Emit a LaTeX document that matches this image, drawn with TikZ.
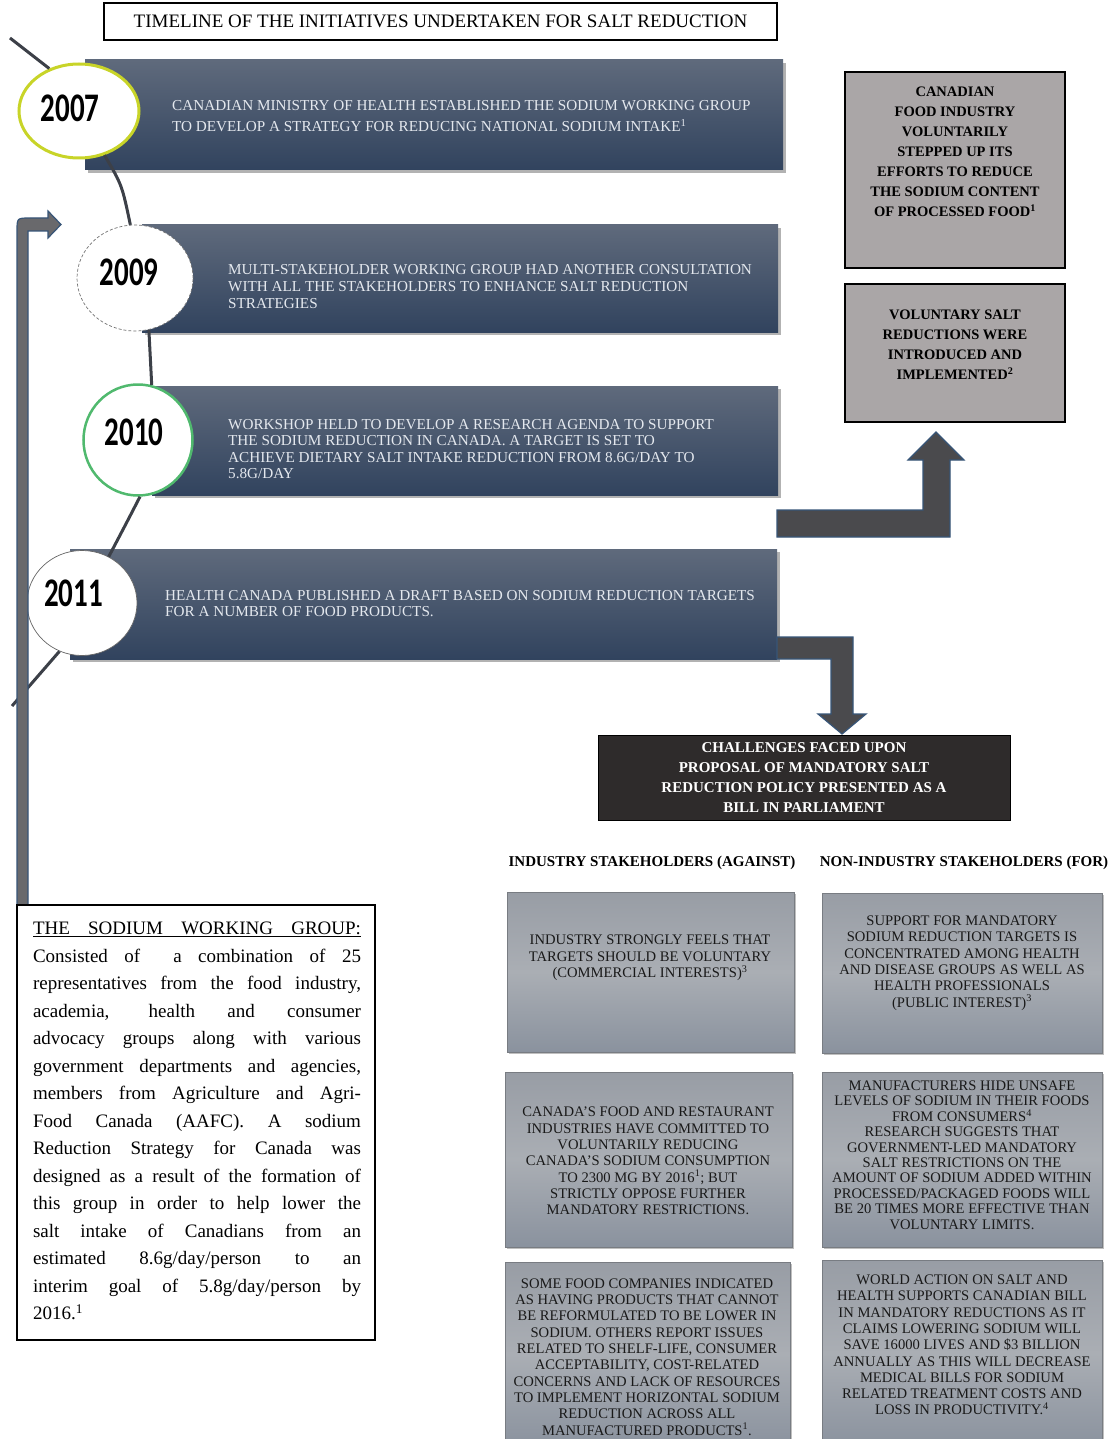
\documentclass[tikz,border=0pt]{standalone}
\usepackage{fontspec}
\setmainfont{Liberation Serif}
\newfontfamily\yearfont{Carlito}
\usetikzlibrary{shapes.geometric,shadows}
\definecolor{bantop}{RGB}{95,106,124}
\definecolor{banbot}{RGB}{49,67,94}
\definecolor{bantxt}{RGB}{228,232,238}
\definecolor{tlcol}{RGB}{60,64,72}
\definecolor{ygreen}{RGB}{200,212,40}
\definecolor{cgreen}{RGB}{80,185,110}
\definecolor{rgray}{RGB}{170,166,167}
\definecolor{agray}{RGB}{74,74,77}
\definecolor{ablue}{RGB}{55,85,120}
\definecolor{lagray}{RGB}{105,105,108}
\definecolor{chall}{RGB}{46,43,43}
\definecolor{sbtop}{RGB}{152,157,165}
\definecolor{sbmid}{RGB}{170,174,180}
\definecolor{sbbot}{RGB}{138,146,158}
\definecolor{sbedge}{RGB}{120,124,130}
\newcommand\yearlabel[3]{\hspace*{#1}\raisebox{#2}{\scalebox{1}[1.4]{\yearfont\bfseries\fontsize{29}{29}\selectfont #3}}}
\begin{document}
\begin{tikzpicture}[x=1pt,y=-1pt,
  banner/.style={rectangle,inner sep=0pt,top color=bantop,bottom color=banbot,drop shadow={shadow xshift=2.5pt,shadow yshift=-3pt,opacity=0.3,fill=black}},
  bantext/.style={anchor=west,align=left,inner sep=0pt,text=bantxt,font=\fontsize{15.2}{17}\selectfont},
  yearc/.style={ellipse,fill=white,inner sep=0pt},
  tline/.style={draw=tlcol,line width=3pt},
  rbox/.style={rectangle,fill=rgray,draw=black,line width=1.8pt,inner sep=0pt},
  rtext/.style={align=center,inner sep=0pt,font=\bfseries\fontsize{14.5}{20}\selectfont},
  bigarrow/.style={fill=agray,draw=ablue,line width=1.2pt,line join=miter},
  sbox/.style={rectangle,inner sep=0pt,top color=sbtop,bottom color=sbbot,middle color=sbmid,draw=sbedge,line width=0.5pt,drop shadow={shadow xshift=1.5pt,shadow yshift=-2pt,opacity=0.25,fill=black}},
  stext/.style={align=center,inner sep=0pt,text=black!90,font=\fontsize{14.6}{16.3}\selectfont},
  head/.style={inner sep=0pt,font=\bfseries\fontsize{15}{17}\selectfont}
]
\useasboundingbox (0,0) rectangle (1110,1439);
\fill[white] (0,0) rectangle (1110,1439);

% title
\node[draw=black,line width=1.5pt,minimum width=673pt,minimum height=37pt,inner sep=0pt,font=\fontsize{19}{19}\selectfont] (title) at (440.5,21.5) {TIMELINE OF THE INITIATIVES UNDERTAKEN FOR SALT REDUCTION};

% banners
\node[banner,minimum width=698pt,minimum height=110pt] (b1) at (434,115) {};
\node[banner,minimum width=636pt,minimum height=107pt] (b2) at (460,278.5) {};
\node[banner,minimum width=626pt,minimum height=109pt] (b3) at (465,440.5) {};
\node[banner,minimum width=707pt,minimum height=110pt] (b4) at (423.5,604) {};

% big arrows
\draw[bigarrow] (777,510) -- (923,510) -- (923,460) -- (908,460) -- (936,432) -- (964,460) -- (950,460) -- (950,537) -- (777,537) -- cycle;
\draw[bigarrow] (777,637) -- (853,637) -- (853,714) -- (866,714) -- (842,734) -- (818,714) -- (831,714) -- (831,659) -- (777,659) -- cycle;

% year ellipses
\node[yearc,draw=ygreen,line width=3pt,minimum width=120pt,minimum height=94pt] (y2007) at (79,111) {\yearlabel{-18pt}{6pt}{2007}};
\node[yearc,draw=black!55,line width=0.7pt,densely dashed,minimum width=116pt,minimum height=106pt] (y2009) at (135,278) {\yearlabel{-12pt}{12pt}{2009}};
\node[yearc,draw=cgreen,line width=2.5pt,minimum width=109pt,minimum height=111pt] (y2010) at (138,440) {\yearlabel{-8pt}{16pt}{2010}};
\node[yearc,draw=black!60,line width=0.7pt,minimum width=110pt,minimum height=105pt] (y2011) at (82,603) {\yearlabel{-17pt}{20pt}{2011}};

% timeline connectors
\coordinate (tls) at (10,38);
\coordinate (tle) at (12,706);
\draw[tline] (tls) -- (y2007.125);
\draw[tline] (y2007.-60) .. controls (122,185) .. (y2009.95);
\draw[tline] (y2009.-75) -- (y2010.76);
\draw[tline] (y2010.-88) .. controls (128,520) .. (y2011.60);
\draw[tline] (y2011.-115) -- (tle);

% banner texts
\node[bantext,font=\fontsize{15.2}{21}\selectfont] (t1) at (172,116) {CANADIAN MINISTRY OF HEALTH ESTABLISHED THE SODIUM WORKING GROUP\\TO DEVELOP A STRATEGY FOR REDUCING NATIONAL SODIUM INTAKE\textsuperscript{1}};
\node[bantext] (t2) at (228,287) {MULTI-STAKEHOLDER WORKING GROUP HAD ANOTHER CONSULTATION\\WITH ALL THE STAKEHOLDERS TO ENHANCE SALT REDUCTION\\STRATEGIES};
\node[bantext,font=\fontsize{15.2}{16.5}\selectfont] (t3) at (228,449) {WORKSHOP HELD TO DEVELOP A RESEARCH AGENDA TO SUPPORT\\THE SODIUM REDUCTION IN CANADA. A TARGET IS SET TO\\ACHIEVE DIETARY SALT INTAKE REDUCTION FROM 8.6G/DAY TO\\5.8G/DAY};
\node[bantext,font=\fontsize{15.2}{16}\selectfont] (t4) at (165,604) {HEALTH CANADA PUBLISHED A DRAFT BASED ON SODIUM REDUCTION TARGETS\\FOR A NUMBER OF FOOD PRODUCTS.};

% left bent arrow
\draw[fill=lagray,draw=ablue,line width=1.2pt] (17,905) -- (17,231) .. controls (17,218) .. (30,218) -- (48,218) -- (48,211) -- (61,224.5) -- (48,238) -- (48,231) -- (28,231) -- (28,905) -- cycle;

% sodium working group box
\node[draw=black,line width=1.8pt,minimum width=358pt,minimum height=435pt,inner sep=0pt,fill=white] (swg) at (196,1122.5) {};
\node[align=left,inner sep=0pt,font=\fontsize{19}{27.5}\selectfont] (swgt) at (197,1121) {%
\underline{\makebox[328pt][s]{THE SODIUM WORKING GROUP:}}\\
\makebox[328pt][s]{Consisted of \ a combination of 25}\\
\makebox[328pt][s]{representatives from the food industry,}\\
\makebox[328pt][s]{academia, health and consumer}\\
\makebox[328pt][s]{advocacy groups along with various}\\
\makebox[328pt][s]{government departments and agencies,}\\
\makebox[328pt][s]{members from Agriculture and Agri-}\\
\makebox[328pt][s]{Food Canada (AAFC). A sodium}\\
\makebox[328pt][s]{Reduction Strategy for Canada was}\\
\makebox[328pt][s]{designed as a result of the formation of}\\
\makebox[328pt][s]{this group in order to help lower the}\\
\makebox[328pt][s]{salt intake of Canadians from an}\\
\makebox[328pt][s]{estimated 8.6g/day/person to an}\\
\makebox[328pt][s]{interim goal of 5.8g/day/person by}\\
2016.\textsuperscript{1}};

% right boxes
\node[rbox,minimum width=220pt,minimum height=196pt] (ra) at (955,170) {};
\node[rtext] (rat) at (955,152) {CANADIAN\\FOOD INDUSTRY\\VOLUNTARILY\\STEPPED UP ITS\\EFFORTS TO REDUCE\\THE SODIUM CONTENT\\OF PROCESSED FOOD\textsuperscript{1}};
\node[rbox,minimum width=220pt,minimum height=138pt] (rb) at (955,353) {};
\node[rtext] (rbt) at (955,345) {VOLUNTARY SALT\\REDUCTIONS WERE\\INTRODUCED AND\\IMPLEMENTED\textsuperscript{2}};

% challenges
\node[rectangle,fill=chall,draw=black,line width=1pt,minimum width=412pt,minimum height=85pt,inner sep=0pt,text=white,align=center,font=\bfseries\fontsize{15}{20}\selectfont] (chal) at (804,777.5) {CHALLENGES FACED UPON\\PROPOSAL OF MANDATORY SALT\\REDUCTION POLICY PRESENTED AS A\\BILL IN PARLIAMENT};

% headers
\node[head] (hL) at (652,863) {INDUSTRY STAKEHOLDERS (AGAINST)};
\node[head] (hR) at (964,863) {NON-INDUSTRY STAKEHOLDERS (FOR)};

% stakeholder boxes
\node[sbox,minimum width=287pt,minimum height=160pt] (L1) at (650.5,972) {};
\node[sbox,minimum width=280pt,minimum height=160pt] (R1) at (962,973) {};
\node[sbox,minimum width=287pt,minimum height=175pt] (L2) at (648.5,1159.5) {};
\node[sbox,minimum width=280pt,minimum height=175pt] (R2) at (962,1159.5) {};
\node[sbox,minimum width=285pt,minimum height=185pt] (L3) at (647.5,1354.5) {};
\node[sbox,minimum width=280pt,minimum height=187pt] (R3) at (962,1353.5) {};

\node[stext] (L1t) at (650,958) {INDUSTRY STRONGLY FEELS THAT\\TARGETS SHOULD BE VOLUNTARY\\(COMMERCIAL INTERESTS)\textsuperscript{3}};
\node[stext] (R1t) at (962,963) {SUPPORT FOR MANDATORY\\SODIUM REDUCTION TARGETS IS\\CONCENTRATED AMONG HEALTH\\AND DISEASE GROUPS AS WELL AS\\HEALTH PROFESSIONALS\\(PUBLIC INTEREST)\textsuperscript{3}};
\node[stext] (L2t) at (648,1161) {CANADA'S FOOD AND RESTAURANT\\INDUSTRIES HAVE COMMITTED TO\\VOLUNTARILY REDUCING\\CANADA'S SODIUM CONSUMPTION\\TO 2300 MG BY 2016\textsuperscript{1}; BUT\\STRICTLY OPPOSE FURTHER\\MANDATORY RESTRICTIONS.};
\node[stext,font=\fontsize{14.6}{15.4}\selectfont] (R2t) at (962,1155) {MANUFACTURERS HIDE UNSAFE\\LEVELS OF SODIUM IN THEIR FOODS\\FROM CONSUMERS\textsuperscript{4}\\RESEARCH SUGGESTS THAT\\GOVERNMENT-LED MANDATORY\\SALT RESTRICTIONS ON THE\\AMOUNT OF SODIUM ADDED WITHIN\\PROCESSED/PACKAGED FOODS WILL\\BE 20 TIMES MORE EFFECTIVE THAN\\VOLUNTARY LIMITS.};
\node[stext] (L3t) at (647,1357) {SOME FOOD COMPANIES INDICATED\\AS HAVING PRODUCTS THAT CANNOT\\BE REFORMULATED TO BE LOWER IN\\SODIUM. OTHERS REPORT ISSUES\\RELATED TO SHELF-LIFE, CONSUMER\\ACCEPTABILITY, COST-RELATED\\CONCERNS AND LACK OF RESOURCES\\TO IMPLEMENT HORIZONTAL SODIUM\\REDUCTION ACROSS ALL\\MANUFACTURED PRODUCTS\textsuperscript{1}.};
\node[stext] (R3t) at (962,1345) {WORLD ACTION ON SALT AND\\HEALTH SUPPORTS CANADIAN BILL\\IN MANDATORY REDUCTIONS AS IT\\CLAIMS LOWERING SODIUM WILL\\SAVE 16000 LIVES AND \$3 BILLION\\ANNUALLY AS THIS WILL DECREASE\\MEDICAL BILLS FOR SODIUM\\RELATED TREATMENT COSTS AND\\LOSS IN PRODUCTIVITY.\textsuperscript{4}};
\end{tikzpicture}
\end{document}
